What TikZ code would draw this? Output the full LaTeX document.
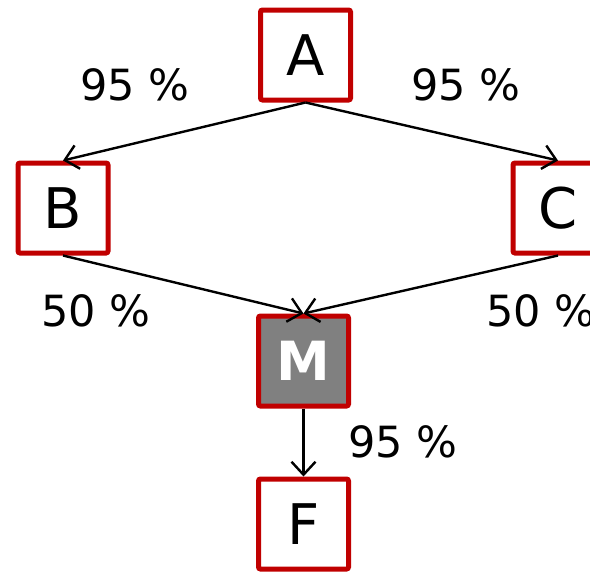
\documentclass[tikz,border=0pt]{standalone}
\usepackage{fontspec}
\setmainfont{DejaVu Sans}
\usetikzlibrary{arrows.meta,positioning}
\definecolor{boxred}{HTML}{C00000}

\begin{document}
\begin{tikzpicture}[x=1pt, y=-1pt, >={Straight Barb[length=13pt,width=24pt]}, line width=2.4pt,
    box/.style={draw=boxred, line width=5pt, rounded corners=2pt, minimum size=90pt, inner sep=0pt, font=\fontsize{56}{62}\selectfont},
    pct/.style={font=\fontsize{43}{50}\selectfont}]
    \useasboundingbox (0,0) rectangle (590,573);
    % Nodes {A, B, C, M, F}
    \node [box]                                      (A) at (305.5,55)    {A};
    \node [box]                                      (B) at (63,208)      {B};
    \node [box]                                      (C) at (558,208)     {C};
    \node [box, fill=gray, text=white, font=\fontsize{54}{60}\selectfont\bfseries]
                                                     (M) at (303.5,361)   {M};
    \node [box]                                      (F) [below=68pt of M] {F};

    % Labels
    \node [pct] (pAB) at (135,85)  {95 \%};
    \node [pct] (pAC) at (466,85)  {95 \%};
    \node [pct] (pBM) at (96,311)  {50 \%};
    \node [pct] (pCM) at (541,311) {50 \%};
    \node [pct] (pMF) at (403,442) {95 \%};

    % Paths
    \path [->]  (A.south) edge (B.north);
    \path [->]  (A.south) edge (C.north);
    \path [->]  (B.south) edge (M.north);
    \path [->]  (C.south) edge (M.north);
    \path [->]  (M.south) edge (F.north);
\end{tikzpicture}
\end{document}
